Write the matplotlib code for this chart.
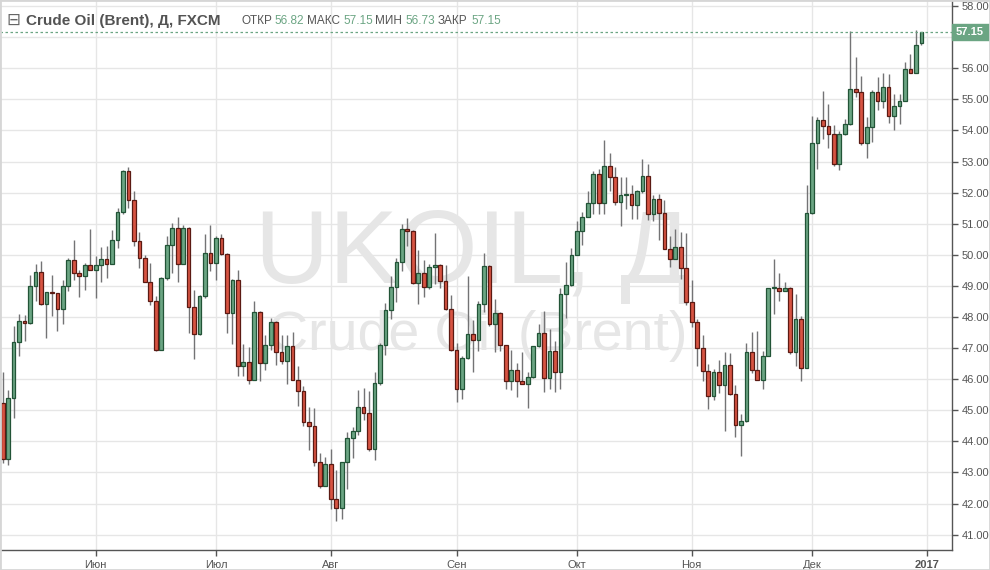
import matplotlib
matplotlib.use("Agg")
import matplotlib.pyplot as plt
import matplotlib.transforms as mtransforms
from matplotlib.patches import Rectangle
import numpy as np

# --- daily OHLC, Brent ---
opens = [45.25, 43.45, 45.38, 47.21, 47.86, 47.80, 49.01, 49.46, 48.43, 48.79,
         48.76, 48.27, 49.01, 49.82, 49.40, 49.33, 49.66, 49.50, 49.66, 49.88,
         49.72, 50.46, 51.39, 52.68, 51.75, 50.43, 49.91, 49.14, 48.53, 46.95,
         49.24, 50.32, 50.87, 49.71, 50.87, 48.32, 47.46, 48.68, 50.07, 49.75,
         50.55, 50.04, 48.13, 49.20, 46.43, 46.56, 45.98, 48.17, 46.53, 47.11,
         47.85, 46.88, 46.59, 47.06, 45.98, 45.63, 44.63, 44.50, 43.35, 42.58,
         43.28, 42.16, 41.87, 43.35, 44.12, 44.32, 45.12, 44.92, 43.77, 45.89,
         47.11, 48.23, 48.97, 49.78, 50.84, 50.78, 49.10, 49.42, 48.97, 49.62,
         49.68, 49.17, 48.27, 46.95, 45.69, 46.69, 47.46, 47.27, 48.43, 49.65,
         47.77, 48.12, 47.09, 45.94, 46.29, 45.94, 45.84, 46.07, 47.06, 47.48,
         46.03, 46.90, 46.23, 48.73, 49.02, 49.99, 50.76, 51.21, 51.66, 52.59,
         51.66, 52.85, 52.50, 51.69, 51.92, 51.95, 51.60, 52.05, 52.53, 51.32,
         51.81, 51.36, 50.20, 49.88, 50.26, 49.59, 48.48, 47.85, 47.00, 46.27,
         45.47, 46.24, 45.82, 46.46, 45.53, 44.53, 44.66, 46.88, 46.30, 45.98,
         46.75, 48.94, 48.94, 48.84, 48.94, 46.88, 47.92, 46.37, 51.33, 53.61,
         54.35, 54.13, 53.87, 52.93, 53.87, 54.19, 55.32, 55.22, 53.61, 54.10,
         55.25, 54.93, 55.41, 54.45, 54.77, 54.96, 55.99, 55.86, 56.82]
highs = [46.24, 45.65, 47.71, 48.11, 48.06, 49.35, 49.69, 49.80, 48.79, 49.35,
         48.76, 49.18, 49.91, 50.47, 49.50, 49.75, 50.82, 49.96, 50.25, 50.28,
         50.79, 51.49, 52.74, 52.81, 52.04, 50.73, 49.98, 49.75, 48.69, 49.30,
         50.62, 51.03, 51.21, 50.95, 50.88, 48.86, 48.72, 50.66, 50.95, 50.60,
         50.68, 50.05, 49.23, 49.52, 47.14, 47.03, 48.50, 48.18, 47.41, 47.98,
         47.86, 47.41, 47.41, 47.51, 46.44, 45.79, 45.11, 45.06, 43.63, 43.51,
         43.77, 43.09, 43.35, 44.30, 44.46, 45.64, 45.71, 45.62, 46.24, 47.17,
         48.46, 49.31, 49.91, 50.98, 51.17, 50.80, 50.14, 49.82, 49.71, 50.69,
         49.70, 49.68, 48.72, 47.17, 46.75, 49.33, 47.91, 48.50, 50.07, 49.67,
         48.57, 48.16, 47.10, 46.94, 46.52, 46.88, 46.23, 47.06, 47.78, 48.19,
         47.61, 47.24, 48.92, 49.76, 50.21, 51.08, 51.38, 52.05, 52.69, 52.75,
         53.70, 53.27, 52.82, 52.50, 52.50, 52.24, 52.08, 53.08, 52.91, 51.91,
         51.97, 51.77, 50.62, 50.84, 50.74, 50.70, 49.20, 47.94, 47.43, 46.50,
         46.33, 46.63, 46.89, 46.85, 45.82, 44.89, 47.17, 47.51, 47.56, 46.91,
         48.94, 49.87, 49.42, 49.13, 48.95, 48.75, 48.03, 52.26, 54.46, 54.43,
         55.26, 54.85, 54.16, 53.97, 54.38, 57.19, 56.36, 55.75, 54.43, 55.29,
         55.71, 55.84, 55.81, 55.16, 55.16, 56.19, 56.47, 57.23, 57.15]
lows = [43.30, 43.25, 44.76, 46.75, 47.23, 47.79, 48.52, 48.40, 47.33, 48.04,
        47.56, 47.76, 48.84, 49.20, 48.65, 48.87, 49.50, 48.62, 49.11, 49.26,
        49.70, 50.22, 51.30, 51.51, 50.29, 49.59, 49.12, 48.37, 46.92, 46.93,
        49.20, 49.41, 49.12, 49.70, 47.48, 46.65, 47.43, 48.60, 49.48, 49.18,
        50.00, 47.48, 47.12, 46.11, 46.11, 45.86, 45.97, 45.95, 46.28, 46.93,
        46.46, 46.50, 45.84, 45.97, 45.14, 44.49, 43.71, 43.21, 42.51, 42.55,
        41.84, 41.44, 41.51, 42.47, 43.48, 44.20, 44.70, 43.70, 43.41, 45.80,
        46.79, 47.95, 48.49, 49.48, 50.27, 49.05, 48.43, 48.64, 48.90, 49.07,
        48.94, 48.21, 46.90, 45.28, 45.36, 46.65, 46.24, 46.92, 48.17, 47.72,
        46.87, 46.92, 45.68, 45.66, 45.44, 45.83, 45.07, 46.05, 47.03, 45.60,
        45.68, 45.60, 45.68, 47.96, 49.00, 49.98, 50.31, 51.20, 51.31, 51.31,
        51.31, 52.05, 51.60, 50.91, 51.47, 51.15, 51.15, 52.00, 51.13, 51.09,
        50.47, 50.18, 49.61, 49.86, 49.23, 48.40, 47.67, 46.41, 45.94, 45.04,
        45.33, 45.55, 44.33, 45.50, 44.15, 43.54, 44.62, 46.21, 45.97, 45.69,
        46.74, 48.10, 48.52, 48.83, 46.82, 46.43, 45.94, 46.36, 51.32, 52.77,
        53.71, 53.44, 52.87, 52.73, 53.85, 54.18, 55.09, 53.52, 53.10, 53.63,
        54.64, 54.71, 54.25, 54.00, 54.22, 54.95, 55.83, 55.85, 56.73]
closes = [43.45, 45.38, 47.21, 47.86, 47.80, 49.01, 49.46, 48.43, 48.79, 48.76,
          48.27, 49.01, 49.82, 49.40, 49.33, 49.66, 49.50, 49.66, 49.88, 49.72,
          50.46, 51.39, 52.68, 51.75, 50.43, 49.91, 49.14, 48.53, 46.95, 49.24,
          50.32, 50.87, 49.71, 50.87, 48.32, 47.46, 48.68, 50.07, 49.75, 50.55,
          50.04, 48.13, 49.20, 46.43, 46.56, 45.98, 48.17, 46.53, 47.11, 47.85,
          46.88, 46.59, 47.06, 45.98, 45.63, 44.63, 44.50, 43.35, 42.58, 43.28,
          42.16, 41.87, 43.35, 44.12, 44.32, 45.12, 44.92, 43.77, 45.89, 47.11,
          48.23, 48.97, 49.78, 50.84, 50.78, 49.10, 49.42, 48.97, 49.62, 49.68,
          49.17, 48.27, 46.95, 45.69, 46.69, 47.46, 47.27, 48.43, 49.65, 47.77,
          48.12, 47.09, 45.94, 46.29, 45.94, 45.84, 46.07, 47.06, 47.48, 46.03,
          46.90, 46.23, 48.73, 49.02, 49.99, 50.76, 51.21, 51.66, 52.59, 51.66,
          52.85, 52.50, 51.69, 51.92, 51.95, 51.60, 52.05, 52.53, 51.32, 51.81,
          51.36, 50.20, 49.88, 50.26, 49.59, 48.48, 47.85, 47.00, 46.27, 45.47,
          46.24, 45.82, 46.46, 45.53, 44.53, 44.66, 46.88, 46.30, 45.98, 46.75,
          48.94, 48.95, 48.84, 48.94, 46.88, 47.92, 46.37, 51.33, 53.61, 54.35,
          54.13, 53.87, 52.93, 53.87, 54.19, 55.32, 55.22, 53.61, 54.10, 55.25,
          54.93, 55.41, 54.45, 54.77, 54.96, 55.99, 55.86, 56.76, 57.15]

month_labels = ["Июн", "Июл", "Авг", "Сен", "Окт", "Ноя", "Дек", "2017"]
month_pos = [17, 39, 60, 83, 105, 126, 148, 169]
price_ticks = list(range(41, 59))

up_fill, up_edge = "#6ba583", "#225437"
dn_fill, dn_edge = "#d75442", "#5b1a13"
wick_col = "#737375"
grid_col = "#e6e6e6"
txt_col = "#555555"

plt.rcParams["font.family"] = ["Liberation Sans", "DejaVu Sans"]

o = np.array(opens)
h = np.array(highs)
l = np.array(lows)
c = np.array(closes)
idx = np.arange(len(c))
up = c >= o

W, H = 990, 570
fig = plt.figure(figsize=(W / 100, H / 100), dpi=100)
ax = fig.add_axes([0, 20 / H, 952 / W, 550 / H])
ax.set_zorder(2)
ax.patch.set_alpha(0)

# watermark (behind the axes)
fig.text(472 / W, 1 - 283 / H, "UKOIL, Д", fontsize=74, color="#e6e6e6",
         ha="center", va="baseline", zorder=0)
fig.text(478 / W, 1 - 350 / H, "Crude Oil (Brent)", fontsize=40, color="#e6e6e6",
         ha="center", va="baseline", zorder=0)

# grid
for p in price_ticks:
    ax.axhline(p, color=grid_col, lw=1, zorder=1)
for m in month_pos:
    ax.axvline(m, color=grid_col, lw=1, zorder=1)

# candles
ax.vlines(idx, l, h, color=wick_col, lw=1, zorder=2)
bw = 0.68
ax.bar(idx[up], (c - o)[up], bottom=o[up], width=bw, color=up_fill,
       edgecolor=up_edge, linewidth=0.9, zorder=3)
ax.bar(idx[~up], (o - c)[~up], bottom=c[~up], width=bw, color=dn_fill,
       edgecolor=dn_edge, linewidth=0.9, zorder=3)

# last price line
last = closes[-1]
ax.axhline(last, color=up_fill, lw=0.9, ls=(0, (2, 2)), zorder=4)

ax.set_xlim(-0.494, 173.6)
ax.set_ylim(40.508, 58.193)

ax.yaxis.tick_right()
ax.set_yticks(price_ticks)
# the tick label hidden under the last-price box is left blank
ax.set_yticklabels(["" if abs(p - last) < 0.4 else f"{p:.2f}" for p in price_ticks])
ax.set_xticks(month_pos)
ax.set_xticklabels(month_labels)
ax.get_xticklabels()[-1].set_fontweight("bold")
ax.tick_params(axis="both", labelsize=8, colors=txt_col, length=4, width=1, pad=3)
for s in ["top", "left"]:
    ax.spines[s].set_visible(False)
for s in ["right", "bottom"]:
    ax.spines[s].set_color(txt_col)
    ax.spines[s].set_linewidth(1)

# last price label on the price scale
tr = mtransforms.blended_transform_factory(ax.transAxes, ax.transData)
box_h = 16 / 31.1
ax.add_patch(Rectangle((1.0, last - box_h / 2), 38 / 952, box_h, transform=tr,
                       facecolor=up_fill, edgecolor=up_fill, clip_on=False, zorder=5))
ax.text(1.004, last, f"{last:.2f}", transform=tr, color="white", fontsize=8,
        fontweight="bold", va="center", ha="left", zorder=6, clip_on=False)

# header
fig.text(6 / W, 1 - 25 / H, "⊟", fontsize=12, color="#666666", va="baseline",
         family="DejaVu Sans", zorder=3)
fig.text(26 / W, 1 - 25 / H, "Crude Oil (Brent), Д, FXCM", fontsize=11,
         fontweight="bold", color="#535353", va="baseline", zorder=3)
parts = [("ОТКР", 241, txt_col), (f"{opens[-1]:.2f}", 274, up_fill),
         ("МАКС", 307, txt_col), (f"{highs[-1]:.2f}", 343, up_fill),
         ("МИН", 375, txt_col), (f"{lows[-1]:.2f}", 405, up_fill),
         ("ЗАКР", 438, txt_col), (f"{closes[-1]:.2f}", 471, up_fill)]
for s, x, col in parts:
    fig.text(x / W, 1 - 24 / H, s, fontsize=8.5, color=col, va="baseline", zorder=3)

# outer frame
fig.add_artist(Rectangle((0, 0), 1, 1, transform=fig.transFigure, fill=False,
                         edgecolor="#d6d6d6", linewidth=2, zorder=3))

fig.savefig("out.png", dpi=100)
